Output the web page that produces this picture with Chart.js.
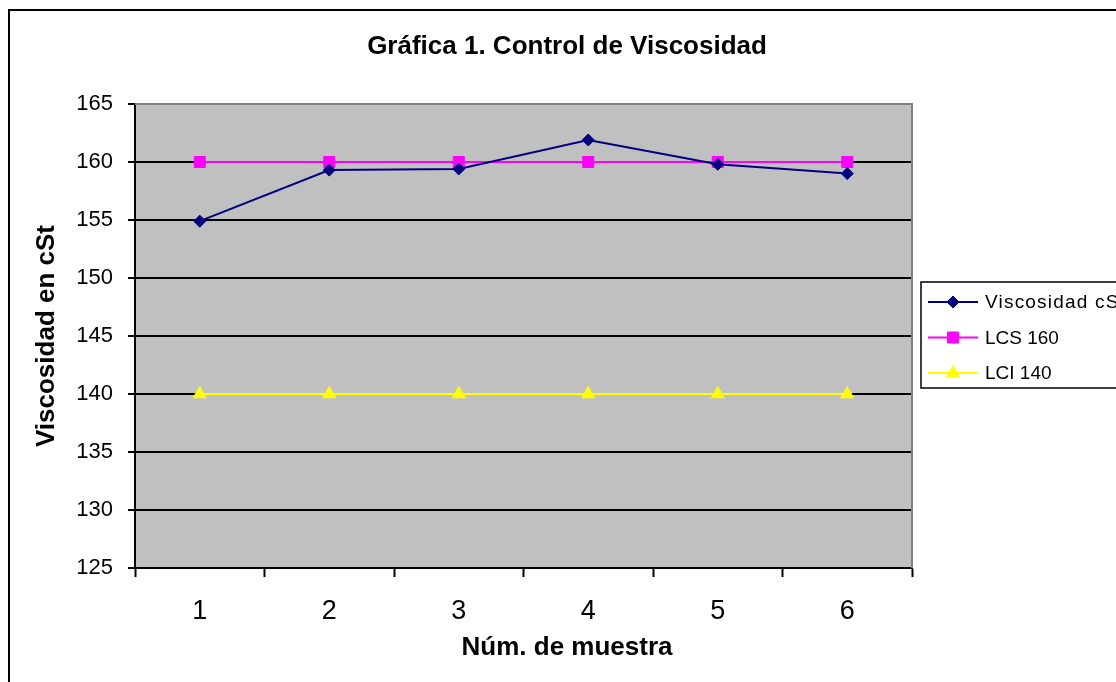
<!DOCTYPE html>
<html>
<head>
<meta charset="utf-8">
<script src="https://cdn.jsdelivr.net/npm/chart.js@4.4.1/dist/chart.umd.min.js"></script>
<style>
  html, body { margin: 0; padding: 0; background: #fff; overflow: hidden; }
  #wrap { position: relative; width: 1116px; height: 682px; }
</style>
</head>
<body>
<div id="wrap"><canvas id="viscChart" width="1116" height="682"></canvas></div>
<script>
// Data
const muestras = ['1', '2', '3', '4', '5', '6'];
const viscosidad = [154.9, 159.3, 159.4, 161.9, 159.8, 159.0];
const lcs160 = [160, 160, 160, 160, 160, 160];
const lci140 = [140, 140, 140, 140, 140, 140];
const yMin = 125;
const yMax = 165;
const yStep = 5;
const titulo = 'Gráfica 1. Control de Viscosidad';
const tituloX = 'Núm. de muestra';

const FONT = 'Arial, "Liberation Sans", sans-serif';

// Gray plot background, outer frame, plot border and the centred titles
const frameBg = {
    id: 'frameBg',
    beforeDraw(chart) {
        const { ctx, chartArea: a } = chart;
        ctx.save();
        ctx.fillStyle = '#fff';
        ctx.fillRect(0, 0, chart.width, chart.height);
        ctx.fillStyle = '#c0c0c0';
        ctx.fillRect(a.left, a.top, a.right - a.left, a.bottom - a.top);
        ctx.strokeStyle = '#000';
        ctx.lineWidth = 2;
        ctx.strokeRect(9, 10, chart.width + 40, chart.height + 40);
        ctx.fillStyle = '#000';
        ctx.font = 'bold 26px ' + FONT;
        ctx.textAlign = 'center';
        ctx.textBaseline = 'middle';
        ctx.fillText(titulo, 567, 47);
        ctx.fillText(tituloX, 567, 648);
        ctx.restore();
    },
    beforeDatasetsDraw(chart) {
        const { ctx, chartArea: a } = chart;
        ctx.save();
        ctx.strokeStyle = '#808080';
        ctx.lineWidth = 2;
        ctx.beginPath();
        ctx.moveTo(a.left, a.top);
        ctx.lineTo(a.right, a.top);
        ctx.lineTo(a.right, a.bottom);
        ctx.stroke();
        ctx.restore();
    }
};

function marker(ctx, style, x, y, r, color) {
    ctx.fillStyle = color;
    ctx.strokeStyle = color;
    ctx.lineWidth = 1;
    ctx.beginPath();
    if (style === 'rectRot') {
        ctx.moveTo(x - r, y);
        ctx.lineTo(x, y - r);
        ctx.lineTo(x + r, y);
        ctx.lineTo(x, y + r);
    } else if (style === 'rect') {
        const s = r * Math.SQRT1_2;
        ctx.rect(x - s, y - s, 2 * s, 2 * s);
    } else {
        const h = r * Math.sqrt(3) / 2;
        ctx.moveTo(x, y - r);
        ctx.lineTo(x + h, y + r / 2);
        ctx.lineTo(x - h, y + r / 2);
    }
    ctx.closePath();
    ctx.fill();
    ctx.stroke();
}

// Legend box on the right, line sample with marker
const sideLegend = {
    id: 'sideLegend',
    afterDraw(chart) {
        const { ctx } = chart;
        const x0 = 921, y0 = 282, rowH = 35.5;
        ctx.save();
        ctx.fillStyle = '#fff';
        ctx.fillRect(x0, y0, 240, 106);
        ctx.strokeStyle = '#000';
        ctx.lineWidth = 1.5;
        ctx.strokeRect(x0, y0, 240, 106);
        chart.data.datasets.forEach((ds, i) => {
            const y = y0 + 20 + i * rowH;
            ctx.strokeStyle = ds.borderColor;
            ctx.lineWidth = 2;
            ctx.beginPath();
            ctx.moveTo(928, y);
            ctx.lineTo(978, y);
            ctx.stroke();
            marker(ctx, ds.pointStyle, 953, y, ds.pointRadius, ds.pointBackgroundColor);
            ctx.fillStyle = '#000';
            ctx.font = '19px ' + FONT;
            // the long label is set a little looser
            ctx.letterSpacing = ds.label.length > 10 ? '1.2px' : '0px';
            ctx.textBaseline = 'middle';
            ctx.textAlign = 'left';
            ctx.fillText(ds.label, 985, y + 1);
        });
        ctx.restore();
    }
};

function series(label, data, color, style, radius) {
    return {
        label,
        data,
        borderColor: color,
        backgroundColor: color,
        pointBackgroundColor: color,
        pointBorderColor: color,
        pointStyle: style,
        pointRadius: radius,
        pointBorderWidth: 1,
        borderWidth: 2,
        tension: 0
    };
}

const ctx = document.getElementById('viscChart').getContext('2d');
new Chart(ctx, {
    type: 'line',
    data: {
        labels: muestras,
        datasets: [
            series('Viscosidad cSt', viscosidad, '#000080', 'rectRot', 6),
            series('LCS 160', lcs160, '#ff00ff', 'rect', 7.8),
            series('LCI 140', lci140, '#ffff00', 'triangle', 7.5)
        ]
    },
    options: {
        responsive: false,
        animation: false,
        layout: { padding: { left: 0, top: 104, right: 204, bottom: 0 } },
        plugins: {
            legend: { display: false },
            tooltip: { enabled: false },
            title: { display: false }
        },
        scales: {
            x: {
                offset: true,
                afterFit(scale) { scale.height = 114; },
                grid: {
                    offset: true,
                    drawOnChartArea: false,
                    drawTicks: true,
                    tickLength: 9,
                    tickColor: '#000',
                    tickWidth: 2
                },
                border: { display: true, color: '#000', width: 2 },
                ticks: {
                    color: '#000',
                    padding: 18,
                    maxRotation: 0,
                    font: { family: FONT, size: 27 }
                }
            },
            y: {
                min: yMin,
                max: yMax,
                afterFit(scale) { scale.width = 135; },
                grid: {
                    color: c => (c.tick && c.tick.value === yMax ? '#808080' : '#000'),
                    lineWidth: 2,
                    drawTicks: true,
                    tickLength: 7,
                    tickColor: '#000',
                    tickWidth: 2
                },
                border: { display: true, color: '#000', width: 2 },
                ticks: {
                    stepSize: yStep,
                    color: '#000',
                    padding: 15,
                    font: { family: FONT, size: 22 }
                },
                title: {
                    display: true,
                    text: 'Viscosidad en cSt',
                    color: '#000',
                    font: { family: FONT, size: 26, weight: 'bold' },
                    padding: { top: 31, bottom: 0 }
                }
            }
        }
    },
    plugins: [frameBg, sideLegend]
});
</script>
</body>
</html>
